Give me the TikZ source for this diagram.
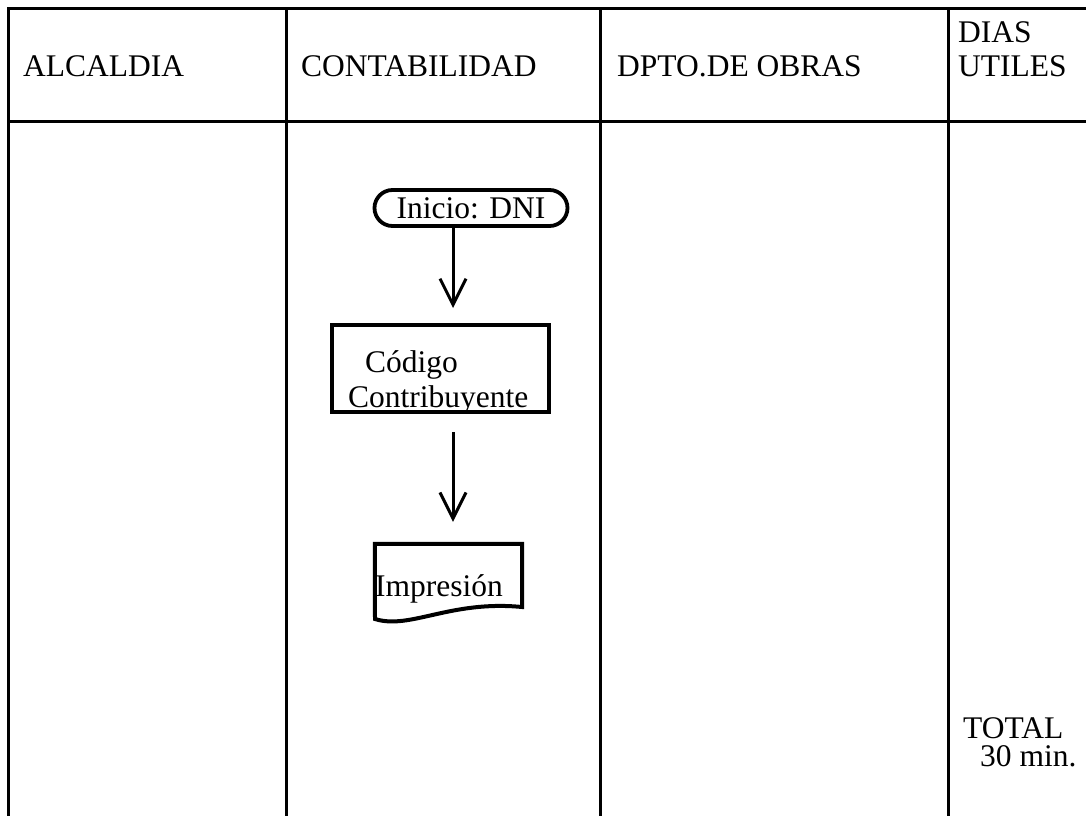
\documentclass[tikz,border=0pt]{standalone}
\usepackage{fontspec}
\setmainfont{Liberation Serif}
\newfontfamily\tms{Liberation Serif}
\usetikzlibrary{arrows.meta}
\begin{document}
\begin{tikzpicture}[x=1pt,y=-1pt,
  tbl/.style={line width=3pt},
  fnt/.style={font=\tms\fontsize{31.5}{34}\selectfont},
  txt/.style={fnt, anchor=base west, inner sep=0pt},
  flow/.style={draw, line width=4pt, inner sep=0pt},
  arr/.style={line width=3pt, -{Straight Barb[length=26pt,width=26pt,line width=3pt]}}]
\useasboundingbox (0,0) rectangle (1086,816);
% table
\draw[tbl] (1086,9) -- (8,9) -- (8,816);
\draw[tbl] (8,121) -- (1086,121);
\draw[tbl] (286,9) -- (286,816);
\draw[tbl] (600,9) -- (600,816);
\draw[tbl] (948,9) -- (948,816);
% headers
\node[txt] (h1) at (23,76) {ALCALDIA};
\node[txt] (h2) at (301,76) {CONTABILIDAD};
\node[txt] (h3) at (617,76) {DPTO.DE OBRAS};
\node[txt] (h4a) at (958,42) {DIAS};
\node[txt] (h4b) at (958,76) {UTILES};
\node[txt] (t1) at (963,738) {TOTAL};
\node[txt] (t2) at (980,766) {30 min.};
% flowchart
\node[flow, fnt, line width=3.8pt, rounded corners=18pt, minimum width=193pt, minimum height=36pt] (tn) at (471,208) {Inicio: DNI};
\node[txt] (cod) at (365,372) {Código};
\node[txt] (con) at (348,407) {Contribuyente};
\node[flow, minimum width=217pt, minimum height=87pt] (cc) at (440.5,368.5) {};
\node[inner sep=0pt, minimum width=147pt, minimum height=64pt] (doc) at (448.5,576) {};
\draw[line width=4pt] (doc.north west) -- (doc.north east) -- (522,607)
  .. controls (450,600) and (410,630) .. (375,619) -- cycle;
\node[txt] (imp) at (375,596) {Impresión};
\coordinate (ax) at (453,0);
\draw[arr, shorten >=15pt] (tn.south -| ax) -- (cc.north -| ax);
\draw[arr, shorten <=18pt, shorten >=22pt] (cc.south -| ax) -- (doc.north -| ax);
\end{tikzpicture}
\end{document}
